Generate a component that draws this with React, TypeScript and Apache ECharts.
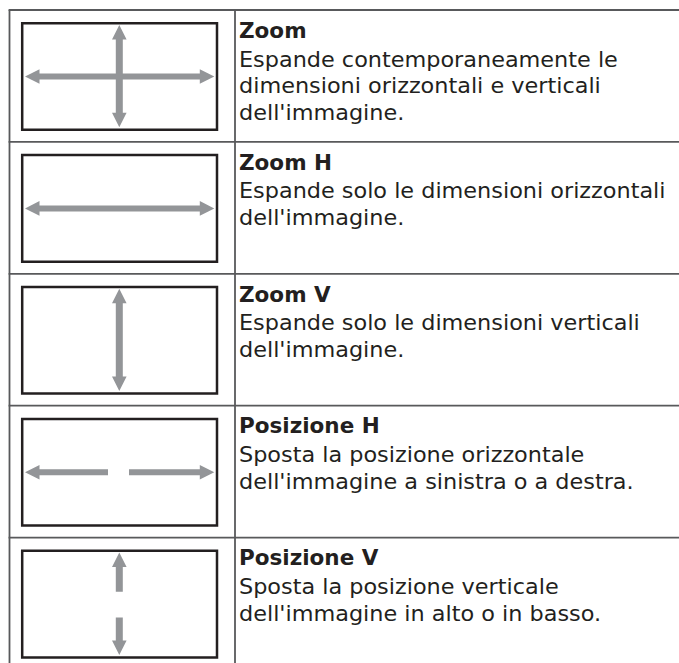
import React, { useEffect, useRef } from "react";
import * as echarts from "echarts";

const W = 679;
const H = 663;

const titles = ["Zoom", "Zoom H", "Zoom V", "Posizione H", "Posizione V"];
const descriptions = [
  ["Espande contemporaneamente le", "dimensioni orizzontali e verticali", "dell'immagine."],
  ["Espande solo le dimensioni orizzontali", "dell'immagine."],
  ["Espande solo le dimensioni verticali", "dell'immagine."],
  ["Sposta la posizione orizzontale", "dell'immagine a sinistra o a destra."],
  ["Sposta la posizione verticale", "dell'immagine in alto o in basso."],
];
const arrowKinds = ["cross", "horizontal", "vertical", "splitH", "splitV"];

const FONT = '"DejaVu Sans", "Open Sans", sans-serif';
const FONT_SIZE = 21.5;
const TEXT_SCALE_X = 1.04;
const TITLE_SCALE_X = 1.0;
const BASE_OFFSET = 7.4;
const TEXT_COLOR = "#231f20";
const GRID_COLOR = "#58595b";
const BOX_COLOR = "#231f20";
const ARROW_COLOR = "#939598";

const ROW_TOP0 = 10;
const ROW_H = 131.9;
const LEFT_X = 9.5;
const COL_X = 235;
const TEXT_X = 239;

type Pt = [number, number];

function hArrow(x1: number, x2: number, cy: number, headLeft: boolean, headRight: boolean): Pt[] {
  const sw = 6, hl = 14.5, hw = 7.3;
  const pts: Pt[] = [];
  if (headLeft) {
    pts.push([x1, cy], [x1 + hl, cy - hw], [x1 + hl, cy - sw / 2]);
  } else {
    pts.push([x1, cy - sw / 2]);
  }
  if (headRight) {
    pts.push([x2 - hl, cy - sw / 2], [x2 - hl, cy - hw], [x2, cy], [x2 - hl, cy + hw], [x2 - hl, cy + sw / 2]);
  } else {
    pts.push([x2, cy - sw / 2], [x2, cy + sw / 2]);
  }
  if (headLeft) {
    pts.push([x1 + hl, cy + sw / 2], [x1 + hl, cy + hw]);
  } else {
    pts.push([x1, cy + sw / 2]);
  }
  return pts;
}

function vArrow(y1: number, y2: number, cx: number, headTop: boolean, headBottom: boolean): Pt[] {
  const sw = 7, hl = 14.5, hw = 7.3;
  const pts: Pt[] = [];
  if (headTop) {
    pts.push([cx, y1], [cx + hw, y1 + hl], [cx + sw / 2, y1 + hl]);
  } else {
    pts.push([cx + sw / 2, y1]);
  }
  if (headBottom) {
    pts.push([cx + sw / 2, y2 - hl], [cx + hw, y2 - hl], [cx, y2], [cx - hw, y2 - hl], [cx - sw / 2, y2 - hl]);
  } else {
    pts.push([cx + sw / 2, y2], [cx - sw / 2, y2]);
  }
  if (headTop) {
    pts.push([cx - sw / 2, y1 + hl], [cx - hw, y1 + hl]);
  } else {
    pts.push([cx - sw / 2, y1]);
  }
  return pts;
}

function arrowShapes(kind: string, top: number): Pt[][] {
  const cy = top + 66.5;
  const cx = 119.3;
  const xl = 25, xr = 214.3;
  const yt = top + 15, yb = top + 117.3;
  switch (kind) {
    case "cross":
      return [hArrow(xl, xr, cy, true, true), vArrow(yt, yb, cx, true, true)];
    case "horizontal":
      return [hArrow(xl, xr, cy, true, true)];
    case "vertical":
      return [vArrow(yt, yb, cx, true, true)];
    case "splitH":
      return [hArrow(xl, 108, cy, true, false), hArrow(129, xr, cy, false, true)];
    case "splitV":
      return [vArrow(yt, top + 54.2, cx, true, false), vArrow(top + 80, yb, cx, false, true)];
    default:
      return [];
  }
}

function textEl(text: string, baseline: number, bold: boolean) {
  return {
    type: "text",
    x: TEXT_X,
    y: baseline - BASE_OFFSET,
    scaleX: bold ? TITLE_SCALE_X : TEXT_SCALE_X,
    style: {
      text,
      x: 0,
      y: 0,
      fill: TEXT_COLOR,
      fontFamily: FONT,
      fontWeight: bold ? "bold" : "normal",
      fontSize: FONT_SIZE,
      align: "left",
      verticalAlign: "middle",
    },
  };
}

function buildElements() {
  const els: any[] = [];
  els.push({ type: "rect", shape: { x: 0, y: 0, width: W, height: H }, style: { fill: "#ffffff" }, silent: true });

  titles.forEach((title, i) => {
    const top = ROW_TOP0 + i * ROW_H;
    els.push({
      type: "rect",
      shape: { x: 22.2, y: top + 13.2, width: 194.8, height: 106.6 },
      style: { fill: "none", stroke: BOX_COLOR, lineWidth: 2.5 },
    });
    arrowShapes(arrowKinds[i], top).forEach((pts) => {
      els.push({ type: "polygon", shape: { points: pts }, style: { fill: ARROW_COLOR } });
    });
    els.push(textEl(title, top + 27.6, true));
    descriptions[i].forEach((line, j) => {
      els.push(textEl(line, top + 56.6 + j * 26.9, false));
    });
    els.push({
      type: "line",
      shape: { x1: LEFT_X - 0.9, y1: top, x2: W, y2: top },
      style: { stroke: GRID_COLOR, lineWidth: 1.8 },
    });
  });

  [LEFT_X, COL_X].forEach((x) => {
    els.push({
      type: "line",
      shape: { x1: x, y1: ROW_TOP0, x2: x, y2: H },
      style: { stroke: GRID_COLOR, lineWidth: 1.8 },
    });
  });
  return els;
}

export default function App() {
  const ref = useRef<HTMLDivElement>(null);
  useEffect(() => {
    if (!ref.current) return;
    const chart = echarts.init(ref.current, null, { renderer: "svg" });
    chart.setOption({
      animation: false,
      backgroundColor: "#ffffff",
      graphic: { elements: buildElements() },
    });
    return () => chart.dispose();
  }, []);
  return (
    <div
      ref={ref}
      style={{ position: "fixed", left: 0, top: 0, width: W, height: H, background: "#fff" }}
    />
  );
}
